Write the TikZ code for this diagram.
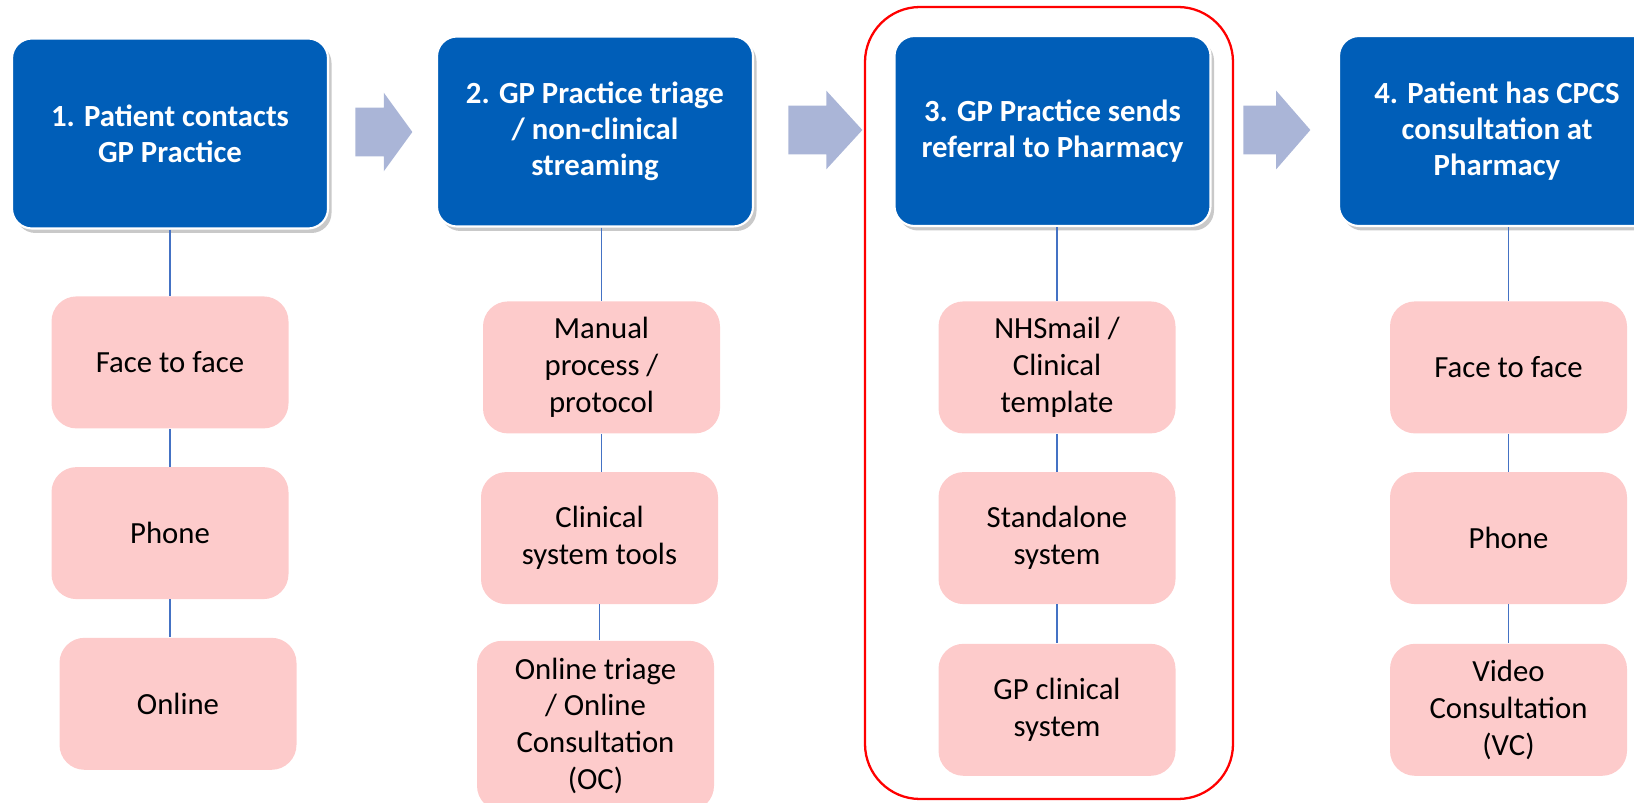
\documentclass[tikz,border=0pt]{standalone}
\usepackage{fontspec}
\setmainfont{Carlito}
\usepackage{xcolor}
\usepackage{tikz}
\usetikzlibrary{positioning,shapes.arrows,shadows}

\definecolor{nhsblue}{RGB}{0,94,184}
\definecolor{pinkfill}{RGB}{253,203,203}
\definecolor{arrowfill}{RGB}{170,181,215}
\definecolor{linkblue}{RGB}{68,114,196}

\begin{document}
\begin{tikzpicture}[
    bluebox/.style={draw=white, line width=1.2pt, fill=nhsblue, rounded corners=0.4cm,
                    minimum width=6.32cm, minimum height=3.8cm, align=center,
                    text=white, font=\fontsize{17.5}{20.5}\selectfont\bfseries,
                    drop shadow={shadow xshift=0.07cm, shadow yshift=-0.09cm, opacity=0.3, fill=black!70}},
    pinkbox/.style={fill=pinkfill, rounded corners=0.5cm, minimum width=4.74cm,
                    minimum height=2.64cm, align=center, font=\fontsize{17.5}{21}\selectfont},
    blockarr/.style={single arrow, fill=arrowfill, inner xsep=0pt, inner ysep=0.48cm, anchor=tail,
                     single arrow head extend=0.3cm, single arrow head indent=0pt},
    link/.style={draw=linkblue, line width=0.6pt},
    redframe/.style={draw=red, line width=1.3pt, rounded corners=1.1cm}
]
\useasboundingbox (0,0) rectangle (32.68,-16.06);

% frame round step 3
\draw[redframe] (17.30,-0.14) rectangle (24.66,-15.98);

% steps
\node[bluebox] (b1) at (3.40,-2.67) {1. Patient contacts\\GP Practice};
\node[bluebox] (b2) at (11.90,-2.63) {2. GP Practice triage\\/ non-clinical\\streaming};
\node[bluebox] (b3) at (21.05,-2.62) {3. GP Practice sends\\referral to Pharmacy};
\node[bluebox] (b4) at (29.94,-2.62) {4. Patient has CPCS\\consultation at\\Pharmacy};

% block arrows
\node[blockarr, minimum height=1.14cm, single arrow tip angle=108] (a1) at (7.10,-2.64) {};
\node[blockarr, minimum height=1.48cm, single arrow tip angle=95] (a2) at (15.76,-2.60) {};
\node[blockarr, minimum height=1.34cm, single arrow tip angle=98] (a3) at (24.86,-2.60) {};

% column 1
\node[pinkbox, below=1.33cm of b1] (p11) {Face to face};
\node[pinkbox, below=0.76cm of p11] (p12) {Phone};
\node[pinkbox, below=0.76cm of p12, xshift=0.16cm] (p13) {Online};

% column 2
\node[pinkbox, below=1.47cm of b2, xshift=0.13cm] (p21) {Manual\\process /\\protocol};
\node[pinkbox, below=0.76cm of p21, xshift=-0.04cm] (p22) {Clinical\\system tools};
\node[pinkbox, below=0.72cm of p22, xshift=-0.08cm, minimum height=3.4cm] (p23) {Online triage\\/ Online\\Consultation\\(OC)};

% column 3
\node[pinkbox, below=1.48cm of b3, xshift=0.09cm] (p31) {NHSmail /\\Clinical\\template};
\node[pinkbox, below=0.76cm of p31] (p32) {Standalone\\system};
\node[pinkbox, below=0.78cm of p32] (p33) {GP clinical\\system};

% column 4
\node[pinkbox, below=1.48cm of b4, xshift=0.23cm] (p41) {Face to face};
\node[pinkbox, below=0.76cm of p41] (p42) {Phone};
\node[pinkbox, below=0.78cm of p42] (p43) {Video\\Consultation\\(VC)};

% links
\draw[link] (p11.north |- b1.south) -- (p11.north);
\draw[link] (p11.south) -- (p12.north);
\draw[link] (p12.south) -- (p12.south |- p13.north);
\draw[link] (p21.north |- b2.south) -- (p21.north);
\draw[link] (p21.south) -- (p21.south |- p22.north);
\draw[link] (p22.south) -- (p22.south |- p23.north);
\draw[link] (p31.north |- b3.south) -- (p31.north);
\draw[link] (p31.south) -- (p32.north);
\draw[link] (p32.south) -- (p33.north);
\draw[link] (p41.north |- b4.south) -- (p41.north);
\draw[link] (p41.south) -- (p42.north);
\draw[link] (p42.south) -- (p43.north);
\end{tikzpicture}
\end{document}
